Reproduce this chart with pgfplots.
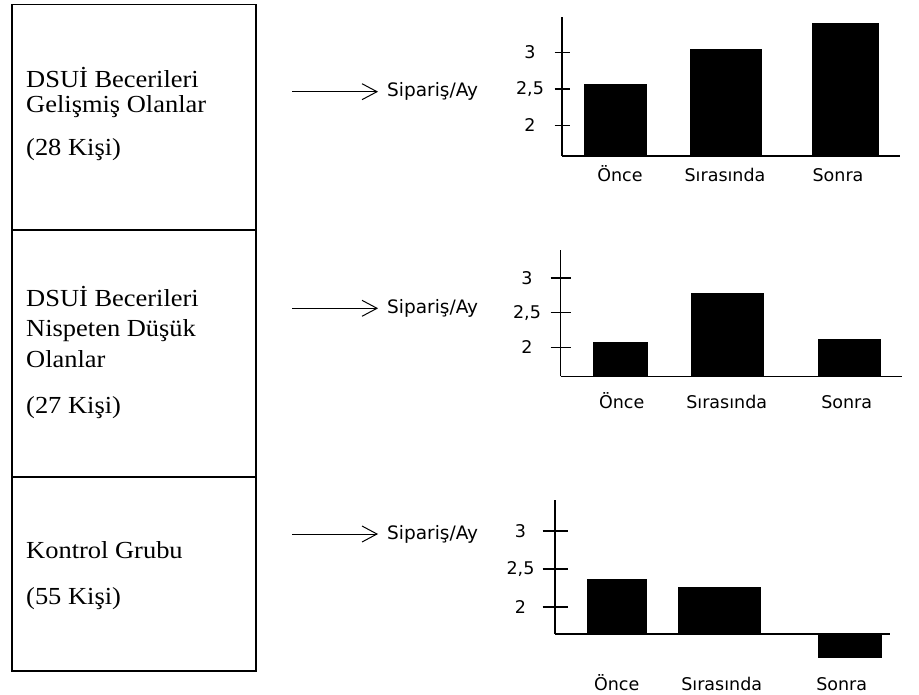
\documentclass[border=0pt]{standalone}
\usepackage{fontspec}
\setmainfont{Liberation Serif}[FakeStretch=1.08]
\newfontfamily\sansf{DejaVu Sans}
\usepackage{pgfplots}
\pgfplotsset{compat=1.18}

\newcommand{\boxfont}{\fontsize{24.5}{29}\selectfont}
\newcommand{\sfont}{\sansf\fontsize{17.5}{21}\selectfont}
\newcommand{\sfontB}{\sansf\fontsize{18.5}{22}\selectfont}

\pgfplotsset{
  barchart/.style={
    scale only axis,
    enlargelimits=false,
    axis x line*=bottom, axis y line*=left,
    axis line style={-, line width=1.5pt, black},
    clip=false,
    ybar,
    ytick={2,2.5,3}, yticklabels={2,{2,5},3},
    tick align=center,
    major tick style={line width=1.3pt, black},
    xtick style={draw=none},
    tick label style={font=\sfont, text=black},
    xticklabels={Önce, Sırasında, Sonra},
  },
  onebar/.style={fill=black, draw=none, bar shift=0pt, bar width=#1},
}

\begin{document}
\begin{tikzpicture}
\path[use as bounding box] (0pt,0pt) rectangle (919pt,-695pt);
\begin{scope}[x=1pt,y=-1pt]
  % left boxes
  \draw[line width=1.6pt] (12,4.7) rectangle (256,670.7);
  \draw[line width=1.6pt] (12,230) -- (256,230);
  \draw[line width=1.6pt] (12,476.7) -- (256,476.7);
  \begin{scope}[every node/.style={anchor=base west, inner sep=0pt, font=\boxfont}]
    \node at (26,88) {DSUİ Becerileri};
    \node at (26,113) {Gelişmiş Olanlar};
    \node at (26,156) {(28 Kişi)};
    \node at (26,306) {DSUİ Becerileri};
    \node at (26,336) {Nispeten Düşük};
    \node at (26,367) {Olanlar};
    \node at (26,413) {(27 Kişi)};
    \node at (26,558) {Kontrol Grubu};
    \node at (26,604) {(55 Kişi)};
  \end{scope}
  % arrows
  \foreach \yy in {91.7,308.3,534} {
    \draw[line width=1pt] (292,\yy) -- (377,\yy);
    \draw[line width=1pt] (362,\yy-8) -- (377,\yy) -- (362,\yy+8);
    \node[anchor=west, inner sep=0pt, font=\sfontB] at (387,\yy) {Sipariş/Ay};
  }
\end{scope}

% Chart 1
\begin{axis}[barchart,
  at={(562pt,-156pt)}, anchor=south west,
  width=338pt, height=139pt,
  xmin=562, xmax=900, ymin=1.576, ymax=3.49,
  y coord trafo/.code={\pgfmathparse{#1-1.576}},
  y coord inv trafo/.code={\pgfmathparse{#1+1.576}},
  major tick length=15pt,
  yticklabel style={anchor=center, xshift=-24.5pt},
  xtick={620,725,838},
  xticklabel style={anchor=base, yshift=-18.2pt},
]
\addplot[onebar=62.7pt] coordinates {(615.4,2.563)};
\addplot[onebar=72pt] coordinates {(726,3.045)};
\addplot[onebar=67.3pt] coordinates {(845.4,3.41)};
\end{axis}

% Chart 2
\begin{axis}[barchart,
  at={(560.7pt,-376.3pt)}, anchor=south west,
  width=341pt, height=126.3pt,
  xmin=560.7, xmax=901.7, ymin=1.582, ymax=3.402,
  y coord trafo/.code={\pgfmathparse{#1-1.582}},
  y coord inv trafo/.code={\pgfmathparse{#1+1.582}},
  major tick length=20pt,
  yticklabel style={anchor=center, xshift=-23.7pt},
  xtick={621.7,726.7,846.7},
  xticklabel style={anchor=base, yshift=-22pt},
]
\addplot[onebar=55pt] coordinates {(620.8,2.081)};
\addplot[onebar=73.3pt] coordinates {(727.3,2.787)};
\addplot[onebar=63pt] coordinates {(849.2,2.115)};
\end{axis}

% Chart 3
\begin{axis}[barchart,
  at={(555pt,-634.2pt)}, anchor=south west,
  width=335pt, height=134.2pt,
  xmin=555, xmax=890, ymin=1.641, ymax=3.407,
  y coord trafo/.code={\pgfmathparse{#1-1.641}},
  y coord inv trafo/.code={\pgfmathparse{#1+1.641}},
  major tick length=25pt,
  yticklabel style={anchor=center, xshift=-22pt},
  xtick={616.7,721.7,841.7},
  xticklabel style={anchor=base, yshift=-44pt},
]
\addplot[onebar=60pt] coordinates {(616.7,2.367)};
\addplot[onebar=83pt] coordinates {(719.2,2.266)};
\addplot[onebar=64pt] coordinates {(850.3,1.324)};
\end{axis}
\end{tikzpicture}
\end{document}
